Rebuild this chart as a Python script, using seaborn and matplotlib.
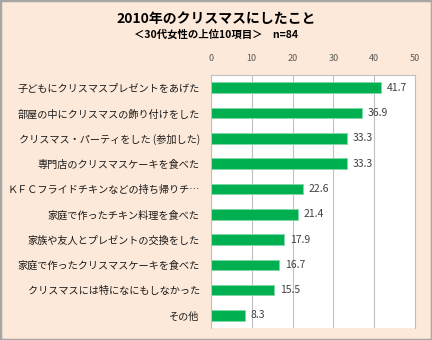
import matplotlib
matplotlib.use("Agg")
import matplotlib.pyplot as plt
import seaborn as sns
import pandas as pd
from matplotlib.patches import Rectangle

categories = [
    "子どもにクリスマスプレゼントをあげた",
    "部屋の中にクリスマスの飾り付けをした",
    "クリスマス・パーティをした (参加した)",
    "専門店のクリスマスケーキを食べた",
    "ＫＦＣフライドチキンなどの持ち帰りチ…",
    "家庭で作ったチキン料理を食べた",
    "家族や友人とプレゼントの交換をした",
    "家庭で作ったクリスマスケーキを食べた",
    "クリスマスには特になにもしなかった",
    "その他",
]
values = [41.7, 36.9, 33.3, 33.3, 22.6, 21.4, 17.9, 16.7, 15.5, 8.3]
xticks = [0, 10, 20, 30, 40, 50]
title = "2010年のクリスマスにしたこと"
subtitle = "＜30代女性の上位10項目＞　n=84"

sns.set_theme(style="white")
plt.rcParams['font.family'] = ['Noto Sans CJK JP', 'DejaVu Sans']

bg = "#FDE9D9"
fig = plt.figure(figsize=(4.32, 3.40), dpi=100, facecolor=bg)
fig.patches.append(Rectangle((0, 0), 1, 1, transform=fig.transFigure,
                             fill=False, edgecolor="#A6A6A6", linewidth=2.5))

ax = fig.add_axes([0.488, 0.035, 0.473, 0.744])
ax.set_facecolor("white")

df = pd.DataFrame({"cat": categories, "val": values})
sns.barplot(data=df, x="val", y="cat", orient="h", color="#00B050",
            saturation=1, width=0.42, edgecolor="#7FD8A6", linewidth=0.6, ax=ax)

ax.set_xlim(0, 50)
ax.set_xticks(xticks)
ax.xaxis.tick_top()
ax.tick_params(axis="x", length=0, labelsize=6.5, labelcolor="#595959", pad=9)
ax.tick_params(axis="y", length=0, labelsize=7.3, labelcolor="#1a1a1a", pad=8)
ax.set_xlabel("")
ax.set_ylabel("")
ax.grid(axis="x", color="#BFBFBF", linewidth=0.8)
ax.set_axisbelow(True)
for s in ax.spines.values():
    s.set_color("#BFBFBF")
    s.set_linewidth(0.8)
ax.spines["bottom"].set_visible(False)

for i, v in enumerate(values):
    ax.text(v + 1.4, i, f"{v:.1f}", va="center", ha="left", fontsize=7.5,
            color="#404040")

fig.text(0.5, 0.945, title, ha="center", va="center", fontsize=10,
         fontweight="bold", color="black")
fig.text(0.5, 0.897, subtitle, ha="center", va="center", fontsize=7.5,
         fontweight="bold", color="black")

fig.savefig("out.png", dpi=100, facecolor=bg)
